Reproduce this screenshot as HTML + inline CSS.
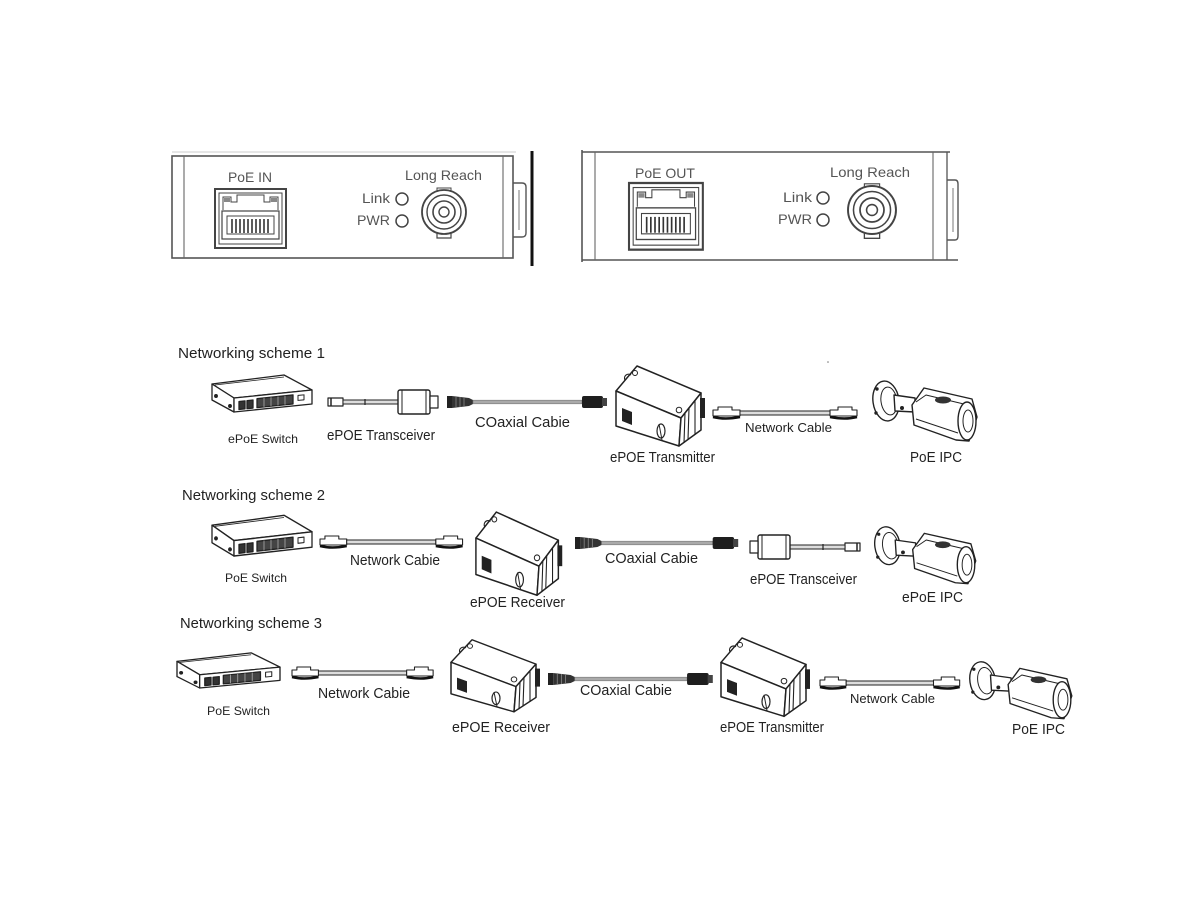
<!DOCTYPE html>
<html>
<head>
<meta charset="utf-8">
<style>
  html,body{margin:0;padding:0;background:#fff;}
  svg{display:block;}
  text{font-family:"Liberation Sans", Arial, sans-serif;}
</style>
</head>
<body>
<svg width="1200" height="900" viewBox="0 0 1200 900" xmlns="http://www.w3.org/2000/svg">
<defs>
  <!-- RJ45 jack (panel) 71x59 -->
  <g id="jack" fill="none" stroke="#444" stroke-width="1.4">
    <rect x="0" y="0" width="71" height="59" stroke-width="2"/>
    <rect x="4" y="4" width="63" height="51" stroke-width="1"/>
    <path d="M8,21 L8,8 L16,8 L16,13 L22,13 L22,6 L49,6 L49,13 L55,13 L55,8 L63,8 L63,21" stroke-width="1"/>
    <rect x="9" y="9" width="6" height="4" fill="#888" stroke="none"/>
    <rect x="56" y="9" width="6" height="4" fill="#888" stroke="none"/>
    <rect x="7" y="22" width="57" height="28" stroke-width="1.2"/>
    <rect x="12" y="27" width="47" height="18" stroke-width="1"/>
    <g stroke="#333" stroke-width="1.6">
      <line x1="17" y1="30" x2="17" y2="44"/><line x1="21" y1="30" x2="21" y2="44"/>
      <line x1="25" y1="30" x2="25" y2="44"/><line x1="29" y1="30" x2="29" y2="44"/>
      <line x1="33" y1="30" x2="33" y2="44"/><line x1="37" y1="30" x2="37" y2="44"/>
      <line x1="41" y1="30" x2="41" y2="44"/><line x1="45" y1="30" x2="45" y2="44"/>
      <line x1="49" y1="30" x2="49" y2="44"/><line x1="53" y1="30" x2="53" y2="44"/>
    </g>
  </g>
  <!-- BNC centered -->
  <g id="bnc" fill="none" stroke="#444" stroke-width="1.4">
    <circle r="22" stroke-width="1.8"/>
    <circle r="17"/>
    <circle r="11" stroke-width="1.6"/>
    <circle r="5"/>
    <path d="M-7,21 L-7,26 L7,26 L7,21" stroke-width="1.2"/>
    <path d="M-7,-21 L-7,-24 L7,-24 L7,-21" stroke-width="1"/>
  </g>
  <!-- switch 100x40 -->
  <g id="sw" fill="#fff" stroke="#222" stroke-width="1.3" stroke-linejoin="round">
    <polygon points="0,12 72,3 100,18 22,26"/>
    <polygon points="0,12 22,26 22,40 0,28"/>
    <polygon points="22,26 100,18 100,32 22,40"/>
    <line x1="3" y1="13" x2="72" y2="5" stroke-width="0.8"/>
    <circle cx="4" cy="24" r="1.3" fill="#222"/>
    <circle cx="18" cy="34" r="1.3" fill="#222"/>
    <g transform="translate(22,26) skewY(-5.86)">
      <rect x="5" y="4" width="6" height="8" fill="#333"/>
      <rect x="13" y="4" width="6" height="8" fill="#333"/>
      <rect x="23" y="3" width="36" height="9" fill="#444"/>
      <g stroke="#bbb" stroke-width="0.7">
        <line x1="30" y1="3" x2="30" y2="12"/><line x1="37" y1="3" x2="37" y2="12"/>
        <line x1="44" y1="3" x2="44" y2="12"/><line x1="51" y1="3" x2="51" y2="12"/>
      </g>
      <rect x="64" y="4" width="6" height="5" fill="#fff" stroke-width="1"/>
    </g>
  </g>
  <!-- ePOE box 90x82 -->
  <g id="box" fill="#fff" stroke="#222" stroke-width="1.5" stroke-linejoin="round">
    <polygon points="3,27 24,2 88,29 68,54"/>
    <polygon points="3,27 68,54 66,82 3,62"/>
    <polygon points="68,54 88,29 88,66 66,82"/>
    <path d="M12,16 a4,4 0 0 1 6,-5" fill="none" stroke-width="1.2"/>
    <circle cx="22" cy="9" r="2.5" fill="#fff" stroke-width="1"/>
    <circle cx="66" cy="46" r="2.8" fill="#fff" stroke-width="1"/>
    <line x1="72" y1="49" x2="71" y2="79" stroke-width="1.1"/>
    <line x1="76" y1="44" x2="75" y2="76" stroke-width="1.1"/>
    <line x1="82" y1="37" x2="82" y2="71" stroke-width="1.1"/>
    <polygon points="9,44 19,48 19,61 9,57" fill="#222" stroke="none"/>
    <ellipse cx="48" cy="67" rx="4" ry="7" fill="none" stroke-width="1.2"/>
    <line x1="46" y1="60" x2="49" y2="76" stroke-width="1"/>
    <rect x="87" y="34" width="5" height="20" fill="#222" stroke="none"/>
  </g>
  <!-- camera 110x65 -->
  <g id="cam" fill="#fff" stroke="#222" stroke-width="1.4" stroke-linejoin="round">
    <ellipse cx="18" cy="26" rx="13" ry="20" transform="rotate(-8 18 26)"/>
    <ellipse cx="21" cy="26" rx="8" ry="14" transform="rotate(-8 21 26)" stroke-width="1"/>
    <circle cx="9" cy="14" r="1" fill="#222"/>
    <circle cx="8" cy="38" r="1" fill="#222"/>
    <polygon points="26,20 47,23 47,37 27,36"/>
    <circle cx="34" cy="33" r="1.3" fill="#222"/>
    <path d="M44,30 L56,13 L104,24 L109,42 L101,66 L88,65 L46,50 Z"/>
    <path d="M48,27 L58,20 L100,30" fill="none" stroke-width="1"/>
    <path d="M48,44 L90,58" fill="none" stroke-width="1"/>
    <ellipse cx="75" cy="25" rx="8" ry="3.5" fill="#333" stroke="none"/>
    <ellipse cx="99" cy="46" rx="9" ry="19"/>
    <ellipse cx="100" cy="46" rx="5" ry="11" stroke-width="1"/>
  </g>
  <!-- network cable, length 144, centered y=0 -->
  <g id="net" stroke="#222" stroke-linejoin="round">
    <path d="M0,-3 L5,-3 L5,-6 L19,-6 L19,-3 L27,-3 L27,3 L0,3 Z" fill="#fff" stroke-width="1.1"/>
    <path d="M0,4 Q12,7 27,4" fill="none" stroke="#111" stroke-width="2.6"/>
    <rect x="27" y="-2" width="90" height="4" fill="#ddd" stroke-width="1"/>
    <path d="M144,-3 L139,-3 L139,-6 L125,-6 L125,-3 L117,-3 L117,3 L144,3 Z" fill="#fff" stroke-width="1.1"/>
    <path d="M117,4 Q132,7 144,4" fill="none" stroke="#111" stroke-width="2.6"/>
  </g>
  <!-- coax cable, length 160 -->
  <g id="coax">
    <rect x="0" y="-6" width="5" height="12" fill="#222"/>
    <path d="M5,-6 L22,-4 L26,-2 L26,2 L22,4 L5,6 Z" fill="#333"/>
    <g stroke="#888" stroke-width="0.8">
      <line x1="9" y1="-5" x2="9" y2="5"/><line x1="13" y1="-5" x2="13" y2="5"/><line x1="17" y1="-4" x2="17" y2="4"/>
    </g>
    <rect x="26" y="-1.8" width="109" height="3.6" fill="#aaa" stroke="#777" stroke-width="0.6"/>
    <rect x="135" y="-6" width="21" height="12" rx="2" fill="#1e1e1e"/>
    <rect x="155" y="-4" width="5" height="8" fill="#444"/>
  </g>
  <!-- transceiver, length 110 -->
  <g id="trx" stroke="#222" stroke-linejoin="round">
    <rect x="0" y="-4" width="15" height="8" fill="#fff" stroke-width="1.2"/>
    <line x1="3" y1="-4" x2="3" y2="4" stroke-width="1.5"/>
    <rect x="15" y="-2" width="55" height="4" fill="#ddd" stroke-width="1"/>
    <line x1="37" y1="-3" x2="37" y2="3" stroke-width="1.2"/>
    <rect x="70" y="-12" width="32" height="24" rx="2" fill="#fff" stroke-width="1.4"/>
    <line x1="74" y1="-12" x2="74" y2="12" stroke-width="1"/>
    <line x1="98" y1="-12" x2="98" y2="12" stroke-width="1"/>
    <rect x="102" y="-6" width="8" height="12" fill="#fff" stroke-width="1.2"/>
  </g>
</defs>

<!-- ===== Panel 1 ===== -->
<line x1="172" y1="152" x2="516" y2="152" stroke="#ccc" stroke-width="1"/>
<rect x="172" y="156" width="341" height="102" fill="none" stroke="#555" stroke-width="1.6"/>
<line x1="184" y1="156" x2="184" y2="258" stroke="#666" stroke-width="1.1"/>
<line x1="503" y1="156" x2="503" y2="258" stroke="#666" stroke-width="1.1"/>
<path d="M513,183 L522,183 Q526,183 526,187 L526,233 Q526,237 522,237 L513,237" fill="none" stroke="#555" stroke-width="1.4"/>
<line x1="519" y1="190" x2="519" y2="230" stroke="#777" stroke-width="1"/>
<line x1="532" y1="151" x2="532" y2="266" stroke="#111" stroke-width="3"/>
<use href="#jack" transform="translate(215,189)"/>
<use href="#bnc" transform="translate(444,212)"/>
<circle cx="402" cy="199" r="6" fill="none" stroke="#444" stroke-width="1.5"/>
<circle cx="402" cy="221" r="6" fill="none" stroke="#444" stroke-width="1.5"/>
<g fill="#555" font-size="14">
  <text x="228" y="182" textLength="44" lengthAdjust="spacingAndGlyphs">PoE IN</text>
  <text x="405" y="180" textLength="77" lengthAdjust="spacingAndGlyphs">Long Reach</text>
  <text x="362" y="203" textLength="28" lengthAdjust="spacingAndGlyphs">Link</text>
  <text x="357" y="225" textLength="33" lengthAdjust="spacingAndGlyphs">PWR</text>
</g>

<!-- ===== Panel 2 ===== -->
<line x1="582" y1="152" x2="950" y2="152" stroke="#555" stroke-width="1.6"/>
<line x1="582" y1="260" x2="958" y2="260" stroke="#555" stroke-width="1.6"/>
<line x1="582" y1="150" x2="582" y2="262" stroke="#555" stroke-width="1.6"/>
<line x1="595" y1="152" x2="595" y2="260" stroke="#666" stroke-width="1.1"/>
<line x1="933" y1="152" x2="933" y2="260" stroke="#666" stroke-width="1.1"/>
<line x1="947" y1="152" x2="947" y2="260" stroke="#555" stroke-width="1.3"/>
<path d="M947,180 L955,180 Q958,180 958,184 L958,236 Q958,240 955,240 L947,240" fill="none" stroke="#555" stroke-width="1.4"/>
<line x1="953" y1="188" x2="953" y2="232" stroke="#777" stroke-width="1"/>
<use href="#jack" transform="translate(629,183) scale(1.04,1.13)"/>
<use href="#bnc" transform="translate(872,210) scale(1.09)"/>
<circle cx="823" cy="198" r="6" fill="none" stroke="#444" stroke-width="1.5"/>
<circle cx="823" cy="220" r="6" fill="none" stroke="#444" stroke-width="1.5"/>
<g fill="#555" font-size="14">
  <text x="635" y="178" textLength="60" lengthAdjust="spacingAndGlyphs">PoE OUT</text>
  <text x="830" y="177" textLength="80" lengthAdjust="spacingAndGlyphs">Long Reach</text>
  <text x="783" y="202" textLength="29" lengthAdjust="spacingAndGlyphs">Link</text>
  <text x="778" y="224" textLength="34" lengthAdjust="spacingAndGlyphs">PWR</text>
</g>

<!-- ===== Scheme 1 ===== -->
<g fill="#222">
  <text x="178" y="358" font-size="15" textLength="147" lengthAdjust="spacingAndGlyphs">Networking scheme  1</text>
</g>
<use href="#sw" transform="translate(212,372)"/>
<use href="#trx" transform="translate(328,402)"/>
<use href="#coax" transform="translate(447,402)"/>
<use href="#box" transform="translate(613,364)"/>
<use href="#net" transform="translate(713,413)"/>
<use href="#cam" transform="translate(868,375)"/>
<circle cx="828" cy="362" r="0.8" fill="#777"/>
<g fill="#222">
  <text x="228" y="443" font-size="12" textLength="70" lengthAdjust="spacingAndGlyphs">ePoE Switch</text>
  <text x="327" y="440" font-size="15" textLength="108" lengthAdjust="spacingAndGlyphs">ePOE Transceiver</text>
  <text x="475" y="427" font-size="15" textLength="95" lengthAdjust="spacingAndGlyphs">COaxial  Cabie</text>
  <text x="610" y="462" font-size="15" textLength="105" lengthAdjust="spacingAndGlyphs">ePOE Transmitter</text>
  <text x="745" y="432" font-size="13" textLength="87" lengthAdjust="spacingAndGlyphs">Network  Cable</text>
  <text x="910" y="462" font-size="15" textLength="52" lengthAdjust="spacingAndGlyphs">PoE IPC</text>
</g>

<!-- ===== Scheme 2 ===== -->
<g fill="#222">
  <text x="182" y="500" font-size="15" textLength="143" lengthAdjust="spacingAndGlyphs">Networking scheme  2</text>
</g>
<use href="#sw" transform="translate(212,512) scale(1,1.1)"/>
<use href="#net" transform="translate(320,542) scale(0.99,1)"/>
<use href="#box" transform="translate(473,510) scale(0.97,1.04)"/>
<use href="#coax" transform="translate(575,543) scale(1.02,1)"/>
<use href="#trx" transform="translate(860,547) scale(-1,1)"/>
<use href="#cam" transform="translate(870,521) scale(0.97,0.95)"/>
<g fill="#222">
  <text x="225" y="582" font-size="12" textLength="62" lengthAdjust="spacingAndGlyphs">PoE Switch</text>
  <text x="350" y="565" font-size="15" textLength="90" lengthAdjust="spacingAndGlyphs">Network Cabie</text>
  <text x="470" y="607" font-size="15" textLength="95" lengthAdjust="spacingAndGlyphs">ePOE Receiver</text>
  <text x="605" y="563" font-size="15" textLength="93" lengthAdjust="spacingAndGlyphs">COaxial  Cabie</text>
  <text x="750" y="584" font-size="15" textLength="107" lengthAdjust="spacingAndGlyphs">ePOE Transceiver</text>
  <text x="902" y="602" font-size="15" textLength="61" lengthAdjust="spacingAndGlyphs">ePoE IPC</text>
</g>

<!-- ===== Scheme 3 ===== -->
<g fill="#222">
  <text x="180" y="628" font-size="15" textLength="142" lengthAdjust="spacingAndGlyphs">Networking scheme 3</text>
</g>
<use href="#sw" transform="translate(177,650) scale(1.03,0.95)"/>
<use href="#net" transform="translate(292,673) scale(0.98,1)"/>
<use href="#box" transform="translate(448,638) scale(1,0.9)"/>
<use href="#coax" transform="translate(548,679) scale(1.03,1)"/>
<use href="#box" transform="translate(718,636) scale(1,0.98)"/>
<use href="#net" transform="translate(820,683) scale(0.97,1)"/>
<use href="#cam" transform="translate(965,656) scale(0.98,0.95)"/>
<g fill="#222">
  <text x="207" y="715" font-size="12" textLength="63" lengthAdjust="spacingAndGlyphs">PoE Switch</text>
  <text x="318" y="698" font-size="15" textLength="92" lengthAdjust="spacingAndGlyphs">Network Cabie</text>
  <text x="452" y="732" font-size="15" textLength="98" lengthAdjust="spacingAndGlyphs">ePOE Receiver</text>
  <text x="580" y="695" font-size="15" textLength="92" lengthAdjust="spacingAndGlyphs">COaxial  Cabie</text>
  <text x="720" y="732" font-size="15" textLength="104" lengthAdjust="spacingAndGlyphs">ePOE Transmitter</text>
  <text x="850" y="703" font-size="13" textLength="85" lengthAdjust="spacingAndGlyphs">Network  Cable</text>
  <text x="1012" y="734" font-size="15" textLength="53" lengthAdjust="spacingAndGlyphs">PoE IPC</text>
</g>
</svg>
</body>
</html>
